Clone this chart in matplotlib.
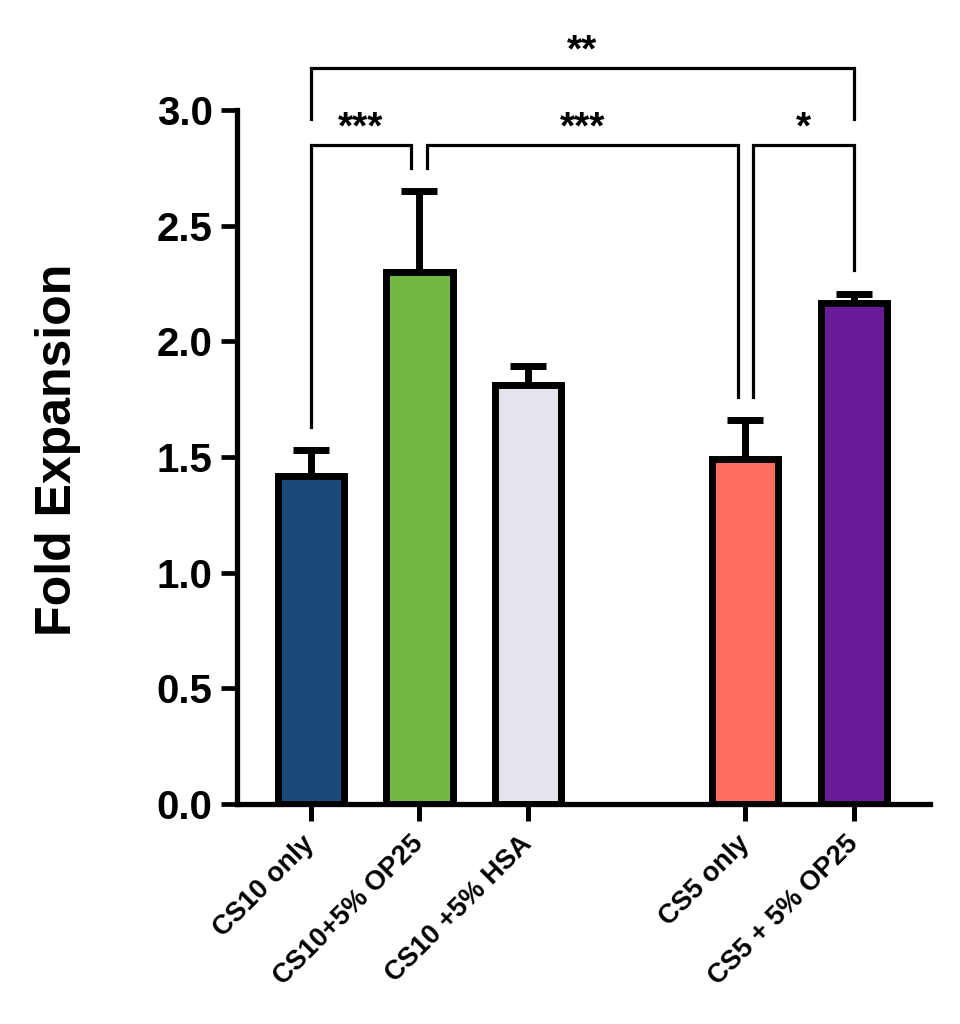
import numpy as np
import matplotlib
matplotlib.use("Agg")
import matplotlib.pyplot as plt

# ---- data ----
categories = ["CS10 only", "CS10+5% OP25", "CS10 +5% HSA", "CS5 only", "CS5 + 5% OP25"]
positions = [0, 1, 2, 4, 5]
means = [1.42, 2.30, 1.81, 1.49, 2.165]
sems = [0.11, 0.35, 0.085, 0.17, 0.04]
colors = ["#1A4A7A", "#72B843", "#E6E3EC", "#FF6F5F", "#6A1B97"]
yticks = [0.0, 0.5, 1.0, 1.5, 2.0, 2.5, 3.0]
ytick_labels = ["0.0", "0.5", "1.0", "1.5", "2.0", "2.5", "3.0"]
ylabel = "Fold Expansion"

# significance brackets: (x_left, x_right, y_bar, y_left_end, y_right_end, label)
brackets = [
    (0 + 0.0, 1 - 0.08, 2.85, 1.63, 2.75, "***"),
    (1 + 0.07, 4 - 0.07, 2.85, 2.75, 1.76, "***"),
    (4 + 0.07, 5 + 0.0, 2.85, 1.76, 2.31, "*"),
    (0 + 0.0, 5 + 0.0, 3.18, 2.96, 2.96, "**"),
]

plt.rcParams["font.family"] = ["Liberation Sans", "DejaVu Sans"]

fig = plt.figure(figsize=(9.6, 10.24), dpi=100)
ax = fig.add_axes([237 / 960, 1 - 804 / 1024, 693 / 960, 694 / 1024])

ax.bar(positions, means, width=0.61, color=colors, edgecolor="black",
       linewidth=5.0, zorder=3)
ax.errorbar(positions, means, yerr=[np.zeros(len(sems)), sems], fmt="none",
            ecolor="black", elinewidth=5.0, capsize=13, capthick=5, zorder=2)

ax.set_xlim(-0.68, 5.70)
ax.set_ylim(0, 3.0)
ax.set_yticks(yticks)
ax.set_yticklabels(ytick_labels, fontsize=29, fontweight="bold")
ax.set_xticks(positions)
ax.set_xticklabels(categories, fontsize=19.5, fontweight="bold",
                   rotation=45, ha="right", va="center", rotation_mode="anchor")

for s in ["top", "right"]:
    ax.spines[s].set_visible(False)
for s in ["left", "bottom"]:
    ax.spines[s].set_linewidth(3.8)
ax.tick_params(axis="y", length=11.5, width=3.4, pad=6)
ax.tick_params(axis="x", length=12, width=3.6, pad=14)

fig.text(58 / 960, 1 - 450 / 1024, ylabel, rotation=90, ha="center",
         va="center", fontsize=36, fontweight="bold")

for xl, xr, yb, yl, yr, lab in brackets:
    ax.plot([xl, xl, xr, xr], [yl, yb, yb, yr], color="black", lw=2.3,
            clip_on=False, solid_joinstyle="miter", zorder=4)
    ax.text((xl + xr) / 2, yb + 0.028, lab, ha="center", va="baseline",
            fontsize=28, fontweight="bold", clip_on=False)

fig.savefig("out.png", dpi=100)
